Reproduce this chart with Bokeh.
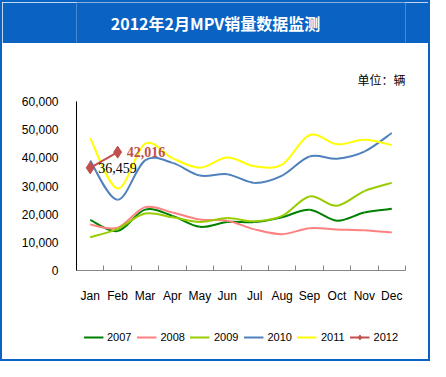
from bokeh.plotting import figure
from bokeh.models import (Range1d, FixedTicker, LinearAxis, NumeralTickFormatter, Title,
                          Legend, LegendItem, Label, ColumnDataSource)
from bokeh.layouts import column
from bokeh.core.properties import value
from bokeh.embed import file_html
from bokeh.resources import INLINE

months = ["Jan", "Feb", "Mar", "Apr", "May", "Jun", "Jul", "Aug", "Sep", "Oct", "Nov", "Dec"]
years = ["2007", "2008", "2009", "2010", "2011"]
s2007 = [18000, 14000, 21600, 19400, 15500, 17200, 17200, 18900, 21600, 17700, 20600, 21900]
s2008 = [16300, 15200, 22500, 20600, 18100, 17700, 14600, 12900, 15000, 14600, 14300, 13500]
s2009 = [11800, 14800, 20200, 18900, 17200, 18600, 17500, 19400, 26300, 23000, 28200, 31100]
s2010 = [39000, 25100, 39100, 38200, 33700, 34200, 31100, 33700, 40500, 39700, 42200, 48800]
s2011 = [47000, 29100, 45000, 39900, 36500, 40100, 37000, 37600, 48100, 44800, 46400, 44500]
s2012 = [36459, 42016]
y_ticks = [0, 10000, 20000, 30000, 40000, 50000, 60000]

colors = ["#008000", "#FF8080", "#99CC00", "#4F81BD", "#FFFF00"]
c2012 = "#C0504D"
BLUE = "#0A62C2"
FONT = "Liberation Sans"
CJK = "Noto Sans CJK SC"

W = 426
LEFT, RIGHT, FW = 74, 23, 329

# ---- blue title bar ----
tf = figure(width=W, height=41, x_range=Range1d(0, FW), y_range=Range1d(0, 1),
            toolbar_location=None, output_backend="svg", min_border=0,
            background_fill_color=BLUE, border_fill_color=BLUE, outline_line_color=None)
tf.axis.visible = False
tf.grid.visible = False
tf.add_layout(Label(x=W / 2 - LEFT, y=0.5, text="2012年2月MPV销量数据监测", text_align="center",
                    text_baseline="middle", text_color="white", text_font=CJK,
                    text_font_style="bold", text_font_size="16px"))

# ---- main chart ----
p = figure(frame_width=FW, frame_height=169, x_range=Range1d(0, 12), y_range=Range1d(0, 60000),
           toolbar_location=None, output_backend="svg",
           min_border_left=LEFT, min_border_right=RIGHT, min_border_top=58, min_border_bottom=45,
           outline_line_color=None, background_fill_color="white", border_fill_color="white")
p.grid.visible = False

unit = Title(text="单位：辆", align="right", text_font=CJK, text_font_size="12px",
             text_font_style="normal", text_color="black", standoff=28)
p.add_layout(unit, "above")

# y axis
p.yaxis.ticker = FixedTicker(ticks=y_ticks)
p.yaxis.formatter = NumeralTickFormatter(format="0,0")
p.yaxis.major_tick_out = 0
p.yaxis.major_tick_in = 0
p.yaxis.minor_tick_out = 0
p.yaxis.minor_tick_in = 0
p.yaxis.axis_line_color = "black"
p.yaxis.major_label_standoff = 18
p.yaxis.major_label_text_font = FONT
p.yaxis.major_label_text_font_size = "12px"
p.yaxis.major_label_text_color = "black"

# x axis: tick marks between categories
n = len(months)
p.xaxis.ticker = FixedTicker(ticks=list(range(n + 1)))
p.xaxis.major_label_overrides = {i: " " for i in range(n + 1)}
p.xaxis.major_tick_in = 5
p.xaxis.major_tick_out = 0
p.xaxis.minor_tick_in = 0
p.xaxis.minor_tick_out = 0
p.xaxis.axis_line_color = "#868686"
p.xaxis.major_tick_line_color = "#868686"
p.xaxis.major_label_standoff = 0

centers = [i + 0.5 for i in range(n)]
lab_axis = LinearAxis(ticker=FixedTicker(ticks=centers),
                      major_label_overrides={c: m for c, m in zip(centers, months)},
                      axis_line_color=None, major_tick_line_color=None, minor_tick_line_color=None,
                      major_tick_in=0, major_tick_out=0, minor_tick_in=0, minor_tick_out=0,
                      major_label_standoff=3, major_label_text_font=FONT,
                      major_label_text_font_size="12px", major_label_text_color="black")
p.add_layout(lab_axis, "below")


def smooth(xs, ys):
    m = len(xs)
    d = dict(x0=[], y0=[], x1=[], y1=[], cx0=[], cy0=[], cx1=[], cy1=[])
    for i in range(m - 1):
        a = i - 1 if i > 0 else i
        b = i + 2 if i + 2 < m else i + 1
        d["x0"].append(xs[i]); d["y0"].append(ys[i])
        d["x1"].append(xs[i + 1]); d["y1"].append(ys[i + 1])
        d["cx0"].append(xs[i] + (xs[i + 1] - xs[a]) / 6)
        d["cy0"].append(ys[i] + (ys[i + 1] - ys[a]) / 6)
        d["cx1"].append(xs[i + 1] - (xs[b] - xs[i]) / 6)
        d["cy1"].append(ys[i + 1] - (ys[b] - ys[i]) / 6)
    return ColumnDataSource(d)


for ys, col in zip([s2007, s2008, s2009, s2010, s2011], colors):
    p.bezier(x0="x0", y0="y0", x1="x1", y1="y1", cx0="cx0", cy0="cy0", cx1="cx1", cy1="cy1",
             source=smooth(centers, ys), line_color=col, line_width=2)

x12 = centers[:len(s2012)]
src12 = ColumnDataSource(dict(x=x12, y=s2012))
p.line("x", "y", source=src12, line_color=c2012, line_width=2)
p.scatter("x", "y", source=src12, marker="diamond", size=12, fill_color=c2012, line_color=c2012)

lab_src1 = ColumnDataSource(dict(x=[x12[0]], y=[s2012[0]], t=[f"{s2012[0]:,}"]))
lab_src2 = ColumnDataSource(dict(x=[x12[1]], y=[s2012[1]], t=[f"{s2012[1]:,}"]))
p.text("x", "y", text="t", source=lab_src1, x_offset=8, y_offset=0, text_baseline="middle",
       text_font=value("Liberation Serif"), text_font_size="14px", text_color="black")
p.text("x", "y", text="t", source=lab_src2, x_offset=9, y_offset=0, text_baseline="middle",
       text_font=value("Liberation Serif"), text_font_size="14px", text_font_style="bold",
       text_color=c2012)

# ---- legend strip (its key renderers lie outside its 0..1 ranges, so only the swatches show) ----
lf = figure(width=W, height=44, x_range=Range1d(0, 1), y_range=Range1d(0, 1),
            toolbar_location=None, output_backend="svg", min_border=0,
            background_fill_color="white", border_fill_color="white", outline_line_color=None)
lf.axis.visible = False
lf.grid.visible = False
items = []
for name, ys, col in zip(years, [s2007, s2008, s2009, s2010, s2011], colors):
    k = lf.line(x=[centers[0]], y=[ys[0]], line_color=col, line_width=2)
    items.append(LegendItem(label=name, renderers=[k]))
kl = lf.line(x=x12, y=s2012, line_color=c2012, line_width=2)
km = lf.scatter(x=x12, y=s2012, marker="diamond", size=10, fill_color=c2012, line_color=c2012)
items.append(LegendItem(label="2012", renderers=[kl, km]))
legend = Legend(items=items, orientation="horizontal", location="center",
                border_line_color=None, background_fill_alpha=0, glyph_width=20,
                glyph_height=12, label_standoff=4, spacing=5, padding=0, margin=0,
                label_text_font=FONT, label_text_font_size="11px", label_text_color="black")
lf.add_layout(legend)

layout = column(tf, p, lf, spacing=0, styles={"border": f"2px solid {BLUE}"})

open("out.html", "w").write(file_html(layout, INLINE))
